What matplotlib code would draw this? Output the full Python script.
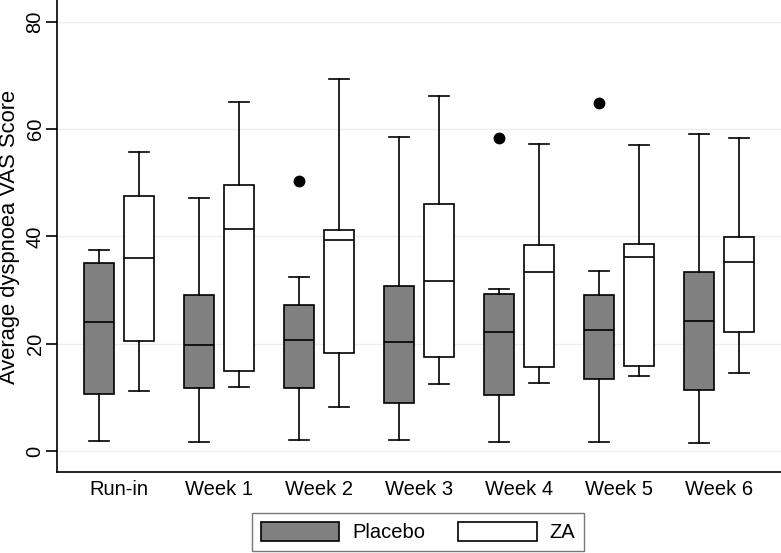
"""Average dyspnoea VAS score by week, placebo vs ZA (Stata-style box plot)."""

import matplotlib

matplotlib.use("Agg")
import matplotlib.pyplot as plt
from matplotlib.patches import Patch

plt.rcParams["font.family"] = ["Liberation Sans", "DejaVu Sans"]

groups = ["Run-in", "Week 1", "Week 2", "Week 3", "Week 4", "Week 5", "Week 6"]

# placebo arm: whisker ends, quartiles, median, outliers
placebo_lo = [1.9, 1.6, 2.05, 2.1, 1.7, 1.7, 1.5]
placebo_q1 = [10.6, 11.7, 11.8, 8.9, 10.4, 13.4, 11.4]
placebo_med = [24.1, 19.75, 20.7, 20.4, 22.1, 22.6, 24.2]
placebo_q3 = [35.0, 29.1, 27.2, 30.8, 29.3, 29.1, 33.3]
placebo_hi = [37.5, 47.2, 32.5, 58.6, 30.2, 33.5, 59.0]
placebo_out = [[], [], [50.3], [], [58.4], [64.9], []]

# ZA arm
za_lo = [11.2, 11.9, 8.2, 12.4, 12.6, 13.9, 14.6]
za_q1 = [20.5, 14.9, 18.3, 17.5, 15.6, 15.9, 22.2]
za_med = [36.0, 41.4, 39.3, 31.6, 33.4, 36.2, 35.2]
za_q3 = [47.5, 49.5, 41.1, 46.1, 38.3, 38.6, 39.8]
za_hi = [55.7, 65.0, 69.4, 66.1, 57.2, 57.0, 58.4]
za_out = [[], [], [], [], [], [], []]

yticks = [0, 20, 40, 60, 80]

PLACEBO = "#808080"
GRID = "#e8f0f0"
LW = 1.2
FS = 14.5


def stats(lo, q1, med, q3, hi, out):
    return [{"whislo": a, "q1": b, "med": c, "q3": d, "whishi": e, "fliers": f}
            for a, b, c, d, e, f in zip(lo, q1, med, q3, hi, out)]


fig = plt.figure(figsize=(7.81, 5.53), dpi=100)
ax = fig.add_axes([56.7 / 781, 81.3 / 553, (781 - 56.7) / 781, 471.7 / 553])

for y in yticks:
    ax.axhline(y, color=GRID, lw=1.0, zorder=0)

x = list(range(len(groups)))
for data, off, face in ((stats(placebo_lo, placebo_q1, placebo_med, placebo_q3,
                               placebo_hi, placebo_out), -0.2, PLACEBO),
                        (stats(za_lo, za_q1, za_med, za_q3, za_hi, za_out),
                         0.2, "white")):
    ax.bxp(data, positions=[p + off for p in x], widths=0.3, capwidths=0.2,
           patch_artist=True, manage_ticks=False,
           boxprops=dict(facecolor=face, edgecolor="black", lw=LW),
           medianprops=dict(color="black", lw=LW),
           whiskerprops=dict(color="black", lw=LW),
           capprops=dict(color="black", lw=LW),
           flierprops=dict(marker="o", markerfacecolor="black",
                           markeredgecolor="black", markersize=7.5),
           zorder=3)

ax.set_xlim(-0.623, 6.62)
ax.set_ylim(-3.86, 84.05)
ax.set_xticks(x)
ax.set_xticklabels(groups, fontsize=FS)
ax.set_yticks(yticks)
ax.set_yticklabels([str(v) for v in yticks], fontsize=FS, rotation=90,
                   va="center")
ax.tick_params(axis="x", length=0, pad=6)
ax.tick_params(axis="y", length=8, width=LW, pad=0.7)
for s in ("top", "right"):
    ax.spines[s].set_visible(False)
for s in ("left", "bottom"):
    ax.spines[s].set_linewidth(LW)

fig.text(9.5 / 781, 1 - 236.5 / 553, "Average dyspnoea VAS Score", rotation=90,
         ha="center", va="center", fontsize=15.8)

handles = [Patch(facecolor=PLACEBO, edgecolor="black", lw=LW, label="Placebo"),
           Patch(facecolor="white", edgecolor="black", lw=LW, label="ZA")]
leg = fig.legend(handles=handles, loc="center", bbox_to_anchor=(418 / 781, 1 - 532 / 553),
                 ncol=2, fontsize=FS, frameon=True, fancybox=False,
                 handlelength=3.9, handleheight=1.05, handletextpad=0.63,
                 columnspacing=1.65, borderpad=0.45, borderaxespad=0)
leg.get_frame().set_edgecolor("#555555")
leg.get_frame().set_linewidth(1.0)

fig.savefig("out.png", dpi=100)
